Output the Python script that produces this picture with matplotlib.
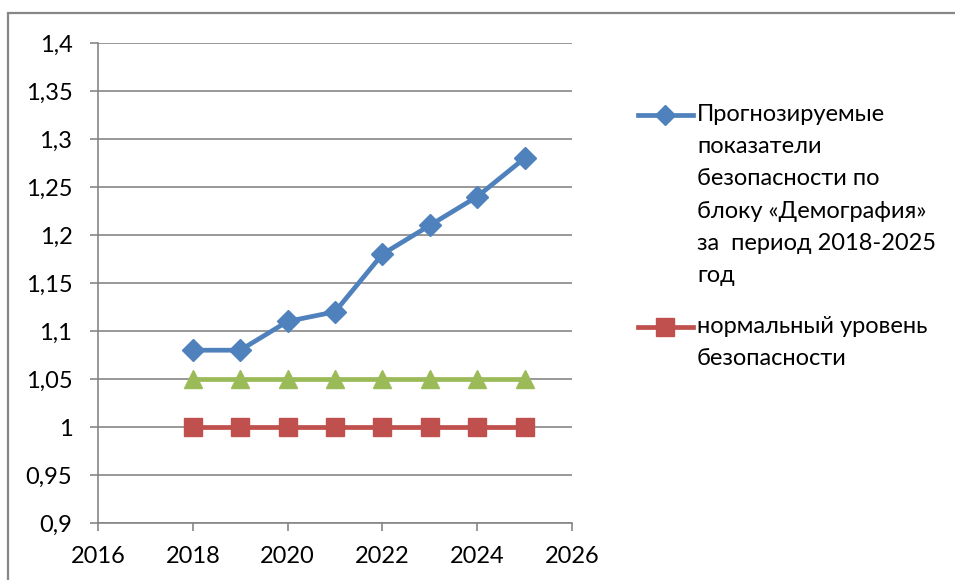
import numpy as np
import matplotlib.pyplot as plt
from matplotlib.patches import Rectangle
from matplotlib.lines import Line2D

years = [2018, 2019, 2020, 2021, 2022, 2023, 2024, 2025]
forecast = [1.08, 1.08, 1.11, 1.12, 1.18, 1.21, 1.24, 1.28]
upper_level = [1.05, 1.05, 1.05, 1.05, 1.05, 1.05, 1.05, 1.05]
normal_level = [1.00, 1.00, 1.00, 1.00, 1.00, 1.00, 1.00, 1.00]

label_forecast = 'Прогнозируемые\nпоказатели\nбезопасности по\nблоку «Демография»\nза  период 2018-2025\nгод'
label_normal = 'нормальный уровень\nбезопасности'

y_ticks = np.arange(0.9, 1.4001, 0.05)
x_ticks = [2016, 2018, 2020, 2022, 2024, 2026]

plt.rcParams['font.family'] = ['Lato', 'DejaVu Sans']

BLUE = '#4F81BD'
RED = '#C0504D'
GREEN = '#9BBB59'
GRID = '#868686'
W, H = 955, 580

fig = plt.figure(figsize=(9.55, 5.8), dpi=100)
# chart frame (cut off by the image at right and bottom)
fig.patches.append(Rectangle((8 / W, -0.1), 1.2, (H - 13) / H + 0.1,
                             transform=fig.transFigure, fill=False,
                             edgecolor='#878787', linewidth=1.6))

ax = fig.add_axes([98 / W, 57 / H, 474 / W, 480 / H])

ax.plot(years, upper_level, color=GREEN, lw=3.4, marker='^', ms=13, zorder=3)
ax.plot(years, normal_level, color=RED, lw=3.4, marker='s', ms=13, zorder=3)
ax.plot(years, forecast, color=BLUE, lw=3.4, marker='D', ms=11, zorder=4)

ax.set_xlim(2016, 2026)
ax.set_ylim(0.9, 1.4)
ax.set_xticks(x_ticks)
ax.set_yticks(y_ticks)
ax.set_yticklabels([('%g' % round(v, 2)).replace('.', ',') for v in y_ticks])
ax.grid(axis='y', color=GRID, lw=1.2)
ax.set_axisbelow(True)
for s in ['top', 'right']:
    ax.spines[s].set_visible(False)
for s in ['left', 'bottom']:
    ax.spines[s].set_color(GRID)
    ax.spines[s].set_linewidth(1.2)
ax.tick_params(axis='both', length=5.5, width=1.2, color=GRID, labelsize=17)
ax.tick_params(axis='x', pad=11)
ax.tick_params(axis='y', pad=13)

# legend drawn by hand so the handle sits at the first text line
def legend_entry(y, color, marker, ms, text):
    fig.add_artist(Line2D([638 / W, 665 / W, 693 / W], [1 - y / H] * 3,
                          transform=fig.transFigure, color=color, lw=3.4,
                          marker=marker, ms=ms, markevery=[1]))
    fig.text(697 / W, 1 - (y - 11) / H, text, fontsize=17, va='top',
             ha='left', linespacing=1.66)

legend_entry(115, BLUE, 'D', 10, label_forecast)
legend_entry(327, RED, 's', 13, label_normal)

fig.savefig('out.png', dpi=100)
